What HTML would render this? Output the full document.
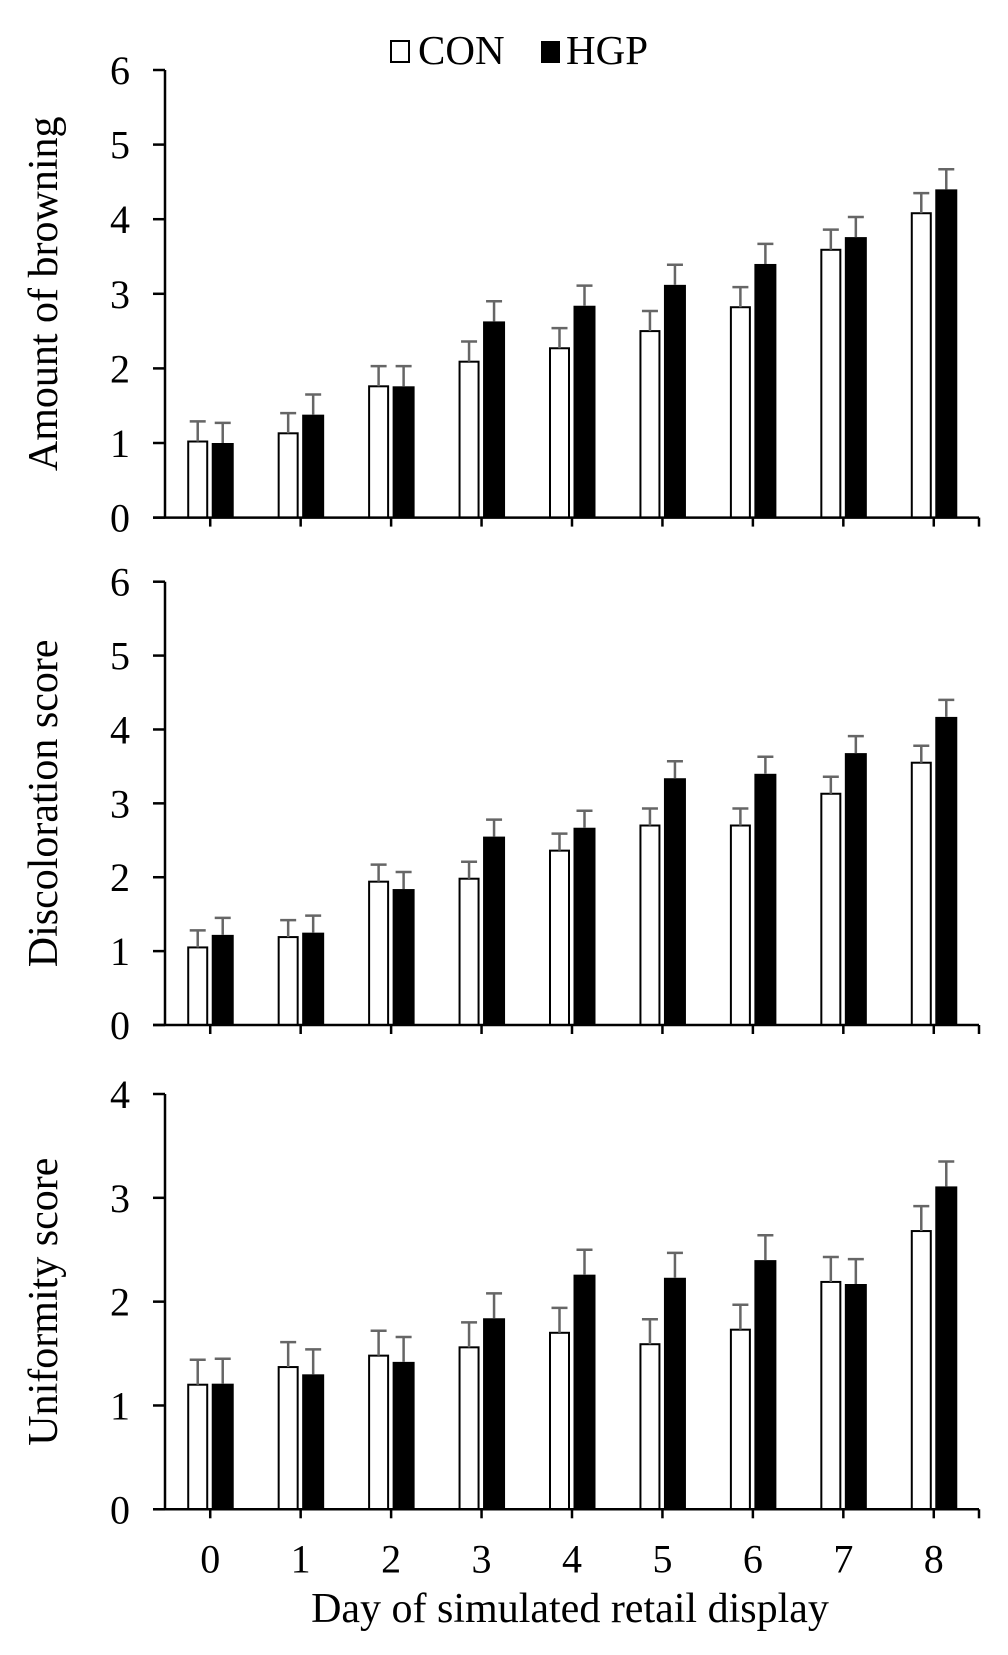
<!DOCTYPE html>
<html><head><meta charset="utf-8"><style>
body{margin:0;background:#fff}
svg{display:block;font-family:"Liberation Serif",serif}
</style></head><body>
<svg id="chart" width="1008" height="1655" viewBox="0 0 1008 1655" xmlns="http://www.w3.org/2000/svg">
<g id="legend">
  <g><rect x="391" y="41" width="18" height="21" fill="#fff" stroke="#000" stroke-width="2"/><text x="418" y="64" font-size="41">CON</text></g>
  <g><rect x="541" y="41" width="19" height="22" fill="#000"/><text x="566" y="64" font-size="41">HGP</text></g>
</g>
<text x="570" y="1622" font-size="42" text-anchor="middle">Day of simulated retail display</text>
</svg>
<script>
const days = ["0","1","2","3","4","5","6","7","8"];
const browningCon = [1.02,1.13,1.76,2.09,2.27,2.5,2.82,3.59,4.08];
const browningHgp = [1.0,1.38,1.76,2.63,2.84,3.12,3.4,3.76,4.4];
const browningErr = [0.27,0.27,0.27,0.27,0.27,0.27,0.27,0.27,0.27];
const discCon = [1.05,1.19,1.94,1.98,2.36,2.7,2.7,3.13,3.55];
const discHgp = [1.22,1.25,1.84,2.55,2.67,3.34,3.4,3.68,4.17];
const discErr = [0.23,0.23,0.23,0.23,0.23,0.23,0.23,0.23,0.23];
const unifCon = [1.2,1.37,1.48,1.56,1.7,1.59,1.73,2.19,2.68];
const unifHgp = [1.21,1.3,1.42,1.84,2.26,2.23,2.4,2.17,3.11];
const unifErr = [0.24,0.24,0.24,0.24,0.24,0.24,0.24,0.24,0.24];
const ticksBrowning = ["0","1","2","3","4","5","6"];
const ticksDisc = ["0","1","2","3","4","5","6"];
const ticksUnif = ["0","1","2","3","4"];

const NS="http://www.w3.org/2000/svg";
const svg=document.getElementById('chart');
function mk(tag,attrs,parent){const e=document.createElementNS(NS,tag);for(const k in attrs)e.setAttribute(k,attrs[k]);(parent||svg).appendChild(e);return e;}
const X0=165,X1=979,band=(X1-X0)/days.length;
function xc(i){return X0+band*(i+0.5);}

function panel(name,title,yTop,yBot,ticks,con,hgp,err,showXLabels){
  const g=mk('g',{});
  
  
  const max=ticks.length-1;
  const y=v=>yBot-(yBot-yTop)*v/max;
  days.forEach((d,i)=>{
    const c=xc(i);
    const bc=mk('rect',{x:c-22,y:y(con[i]),width:19,height:yBot-y(con[i]),fill:'#fff',stroke:'#000','stroke-width':2},g);
    
    
    const bh=mk('rect',{x:c+1.5,y:y(hgp[i]),width:22,height:yBot-y(hgp[i]),fill:'#000'},g);
    
    
    [[c-12.5,con[i]],[c+12.5,hgp[i]]].forEach(([ex,v],k)=>{
      const eb=mk('path',{d:`M${ex} ${y(v)}V${y(v+err[i])}M${ex-8} ${y(v+err[i])}H${ex+8}`,stroke:'#666','stroke-width':2.5,fill:'none'},g);
      
      
    });
  });
  const ax=mk('path',{d:`M${X0} ${yTop}V${yBot}M153 ${yBot}H${X1}`,stroke:'#000','stroke-width':2.5,fill:'none'},g);
  
  
  ticks.forEach((t,k)=>{
    const yy=y(k);
    mk('line',{x1:153,x2:X0,y1:yy,y2:yy,stroke:'#000','stroke-width':2.5},g);
    const tl=mk('text',{x:130,y:yy+14,'font-size':40,'text-anchor':'end'},g);
    tl.textContent=t;
    
    
  });
  days.forEach((d,i)=>{
    mk('line',{x1:xc(i),x2:xc(i),y1:yBot,y2:yBot+9,stroke:'#000','stroke-width':2.5},g);
    if(showXLabels){
      const xl=mk('text',{x:xc(i),y:yBot+63,'font-size':40,'text-anchor':'middle'},g);
      xl.textContent=d;
      
      
    }
  });
  mk('line',{x1:X1,x2:X1,y1:yBot,y2:yBot+9,stroke:'#000','stroke-width':2.5},g);
  const yt=mk('text',{transform:`translate(57 ${(yTop+yBot)/2}) rotate(-90)`,'font-size':42,'text-anchor':'middle'},g);
  yt.textContent=title;
  
  
}
panel('browning','Amount of browning',70,517.6,ticksBrowning,browningCon,browningHgp,browningErr,false);
panel('discoloration','Discoloration score',581.7,1025,ticksDisc,discCon,discHgp,discErr,false);
panel('uniformity','Uniformity score',1094,1509.3,ticksUnif,unifCon,unifHgp,unifErr,true);
</script>
</body></html>
